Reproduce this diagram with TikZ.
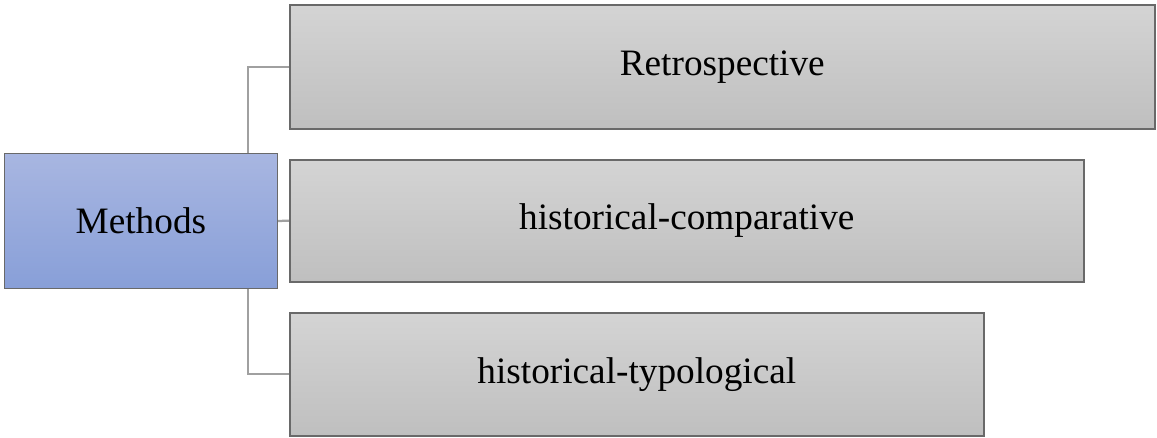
\documentclass[tikz,border=0pt]{standalone}
\usepackage{fontspec}
\setmainfont{Liberation Serif}
\usetikzlibrary{backgrounds}
\definecolor{headtop}{RGB}{168,182,225}
\definecolor{headbot}{RGB}{136,159,216}
\definecolor{boxtop}{RGB}{212,212,212}
\definecolor{boxbot}{RGB}{191,191,191}
\definecolor{edgegray}{RGB}{105,105,105}
\definecolor{linkgray}{RGB}{160,160,160}

\tikzset{
  headbox/.style={draw=edgegray, line width=0.6pt, top color=headtop, bottom color=headbot,
    anchor=north west, inner sep=0pt, font=\fontsize{26.5}{31}\selectfont},
  itembox/.style={draw=edgegray, line width=1.1pt, top color=boxtop, bottom color=boxbot,
    anchor=north west, inner sep=0pt, font=\fontsize{26.5}{31}\selectfont},
  link/.style={draw=linkgray, line width=1.6pt}
}

\begin{document}
\begin{tikzpicture}[x=0.025cm, y=-0.025cm]
  \useasboundingbox (0,0) rectangle (1157,437);
  % root and the three methods
  \node[headbox, minimum width=273*0.025cm, minimum height=135*0.025cm] (methods) at (4,153) {Methods};
  \node[itembox, minimum width=865*0.025cm, minimum height=124*0.025cm] (retro) at (289,4) {Retrospective};
  \node[itembox, minimum width=794*0.025cm, minimum height=122*0.025cm] (comp) at (289,159) {historical-comparative};
  \node[itembox, minimum width=694*0.025cm, minimum height=123*0.025cm] (typo) at (289,312) {historical-typological};
  % connectors
  \begin{scope}[on background layer]
    \draw[link] (retro.west) -- ++(-41,0) |- (typo.west);
    \draw[link] (methods.east) -- (comp.west);
  \end{scope}
\end{tikzpicture}
\end{document}
